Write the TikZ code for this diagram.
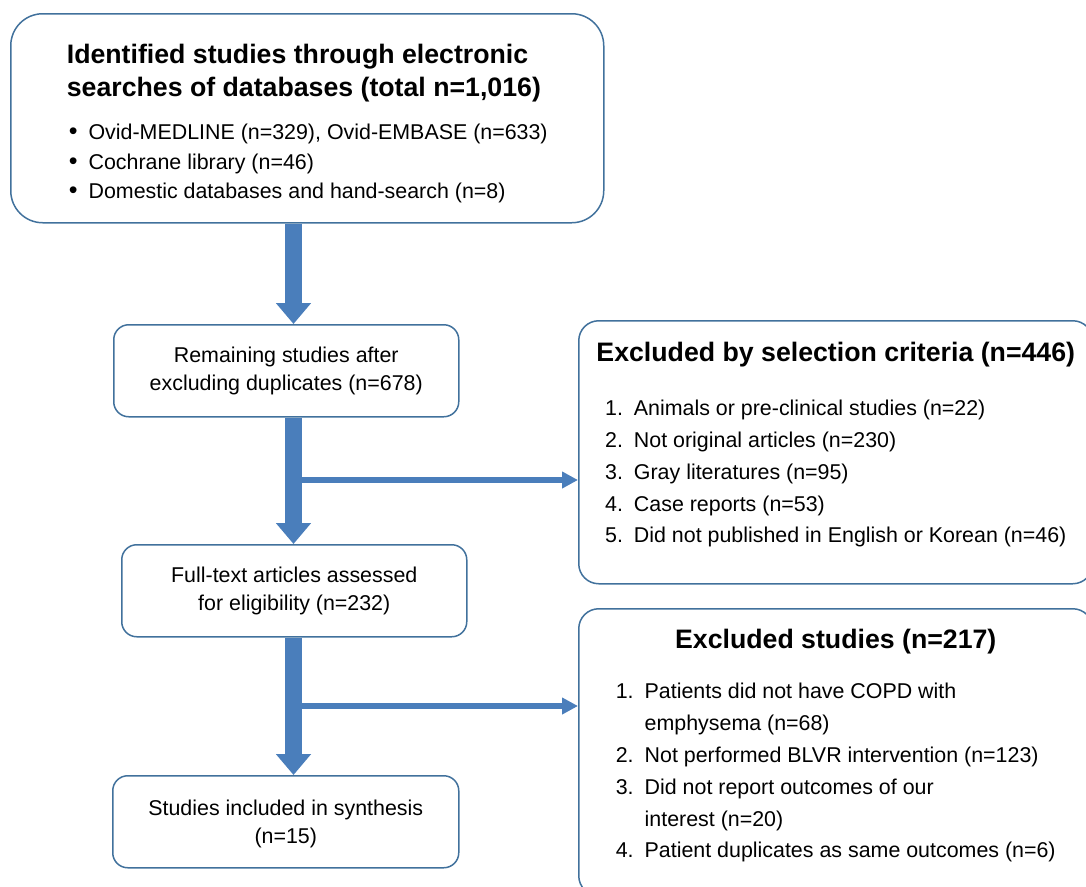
\documentclass[tikz,border=0pt]{standalone}
\usepackage{fontspec}
\setmainfont{Liberation Sans}
\usetikzlibrary{positioning,arrows.meta}

\definecolor{boxline}{RGB}{65,113,156}
\definecolor{arrowblue}{RGB}{74,126,187}

\newcommand{\normsize}{\fontsize{21.4}{28}\selectfont}
\newcommand{\headsize}{\fontsize{26.7}{32}\selectfont\bfseries}
\newcommand{\dotitem}{\hspace*{2pt}{\fontsize{25}{28}\selectfont\textbullet}\hspace*{11pt}}
\renewcommand{\arraystretch}{1.14}

\begin{document}
\begin{tikzpicture}[x=1pt,y=-1pt,
  flow box/.style={draw=boxline,line width=1.5pt,fill=white,rounded corners=15pt,
    inner sep=0pt,align=center,font=\normsize,anchor=north west},
  big arrow/.style={draw=arrowblue,line width=17pt,-{Triangle[width=34pt,length=21pt]}},
  side arrow/.style={draw=arrowblue,line width=6pt,-{Triangle[width=16pt,length=16pt]}}]
\clip (0,0) rectangle (1086,886);

% left column
\node[flow box,rounded corners=32pt,align=left,minimum width=593pt,minimum height=209pt] (ident) at (10,13)
  {{\headsize\rule{0pt}{30pt}Identified studies through electronic}\\[5pt]
   {\headsize searches of databases (total n=1,016)}\\[15pt]
   \dotitem Ovid-MEDLINE (n=329), Ovid-EMBASE (n=633)\\[2pt]
   \dotitem Cochrane library (n=46)\\[1pt]
   \dotitem Domestic databases and hand-search (n=8)};
\node[flow box,minimum width=345pt,minimum height=92pt] (remain) at (113,324)
  {Remaining studies after\\ excluding duplicates (n=678)};
\node[flow box,minimum width=345pt,minimum height=92pt] (fulltext) at (121,544)
  {Full-text articles assessed\\ for eligibility (n=232)};
\node[flow box,minimum width=346pt,minimum height=92pt] (incl) at (112,775)
  {\rule{0pt}{20pt}Studies included in synthesis\\ (n=15)};

% right column
\node[flow box,rounded corners=20pt,minimum width=514pt,minimum height=263pt] (excl1) at (578,320)
  {{\headsize Excluded by selection criteria (n=446)}\\[26pt]
   \begin{tabular}[t]{@{}l@{\hspace{11pt}}l@{}}
   1. & Animals or pre-clinical studies (n=22)\\
   2. & Not original articles (n=230)\\
   3. & Gray literatures (n=95)\\
   4. & Case reports (n=53)\\
   5. & Did not published in English or Korean (n=46)\\[10pt]
   \end{tabular}};
\node[flow box,rounded corners=20pt,minimum width=514pt,minimum height=287pt] (excl2) at (578,608)
  {{\headsize Excluded studies (n=217)}\\[22pt]
   \begin{tabular}[t]{@{}l@{\hspace{11pt}}l@{}}
   1. & Patients did not have COPD with\\
      & emphysema (n=68)\\
   2. & Not performed BLVR intervention (n=123)\\
   3. & Did not report outcomes of our\\
      & interest (n=20)\\
   4. & Patient duplicates as same outcomes (n=6)\\[8pt]
   \end{tabular}};

% connectors
\coordinate (col) at (293.5,0);
\coordinate (split1) at (293.5,480);
\coordinate (split2) at (293.5,706);
\draw[side arrow] (split1) -- (split1 -| excl1.west);
\draw[side arrow] (split2) -- (split2 -| excl2.west);
\draw[big arrow] (ident.south -| col) -- (remain.north -| col);
\draw[big arrow] (remain.south -| col) -- (fulltext.north -| col);
\draw[big arrow] (fulltext.south -| col) -- (incl.north -| col);
\end{tikzpicture}
\end{document}
